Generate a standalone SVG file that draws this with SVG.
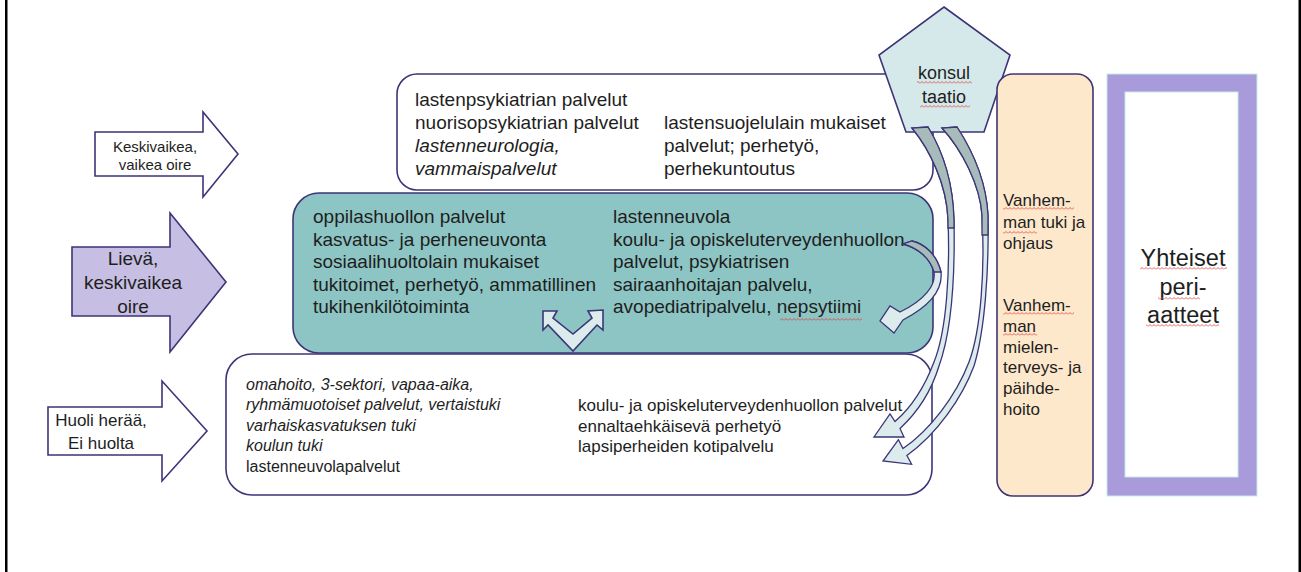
<svg xmlns="http://www.w3.org/2000/svg" width="1301" height="572" viewBox="0 0 1301 572">
<defs>
<style>
.t{font-family:"Liberation Sans",Arial,sans-serif;fill:#1e1e1e}
.s19{font-size:19px}
.s17{font-size:17px}
.s16{font-size:16px}
.s15{font-size:15px}
.it{font-style:italic}
.box{stroke:#3c3577;stroke-width:1.6}
.band{fill:#dcecec;stroke:#3c3577;stroke-width:1.3}
.gray{fill:#a7bbbb;stroke:#3c3577;stroke-width:1.3}
</style>
<pattern id="wv" width="4" height="3" patternUnits="userSpaceOnUse"><path d="M0,2.5 L2,0.5 L4,2.5" fill="none" stroke="#e03a3a" stroke-width="0.8"/></pattern>
</defs>
<rect width="1301" height="572" fill="#ffffff"/>
<rect x="5" y="0" width="2.5" height="572" fill="#000"/>
<rect x="1298.5" y="0" width="2.5" height="572" fill="#000"/>

<g id="arrow-keskivaikea">
<path class="box" d="M95,132 L203,132 L203,112 L238,154 L203,197 L203,176 L95,176 Z" fill="#ffffff"/>
<text class="t s15" text-anchor="middle" x="155" y="152">Keskivaikea,</text>
<text class="t s15" text-anchor="middle" x="155" y="170">vaikea oire</text>
</g>
<g id="arrow-lieva">
<path class="box" d="M72,247 L170,247 L170,213 L226,282 L170,352 L170,316 L72,316 Z" fill="#c6bfe3"/>
<text class="t s19" text-anchor="middle" x="133" y="265">Lievä,</text>
<text class="t s19" text-anchor="middle" x="133" y="289">keskivaikea</text>
<text class="t s19" text-anchor="middle" x="133" y="313">oire</text>
</g>
<g id="arrow-huoli">
<path class="box" d="M48,407 L162,407 L162,381 L207,431 L162,481 L162,455 L48,455 Z" fill="#ffffff"/>
<text class="t s17" text-anchor="middle" x="101" y="426">Huoli herää,</text>
<text class="t s17" text-anchor="middle" x="101" y="449">Ei huolta</text>
</g>

<g id="box-top">
<rect class="box" x="397" y="74" width="536" height="116" rx="20" fill="#ffffff"/>
<text class="t s19" x="415" y="106">lastenpsykiatrian palvelut</text>
<text class="t s19" x="415" y="129">nuorisopsykiatrian palvelut</text>
<text class="t s19 it" x="415" y="152">lastenneurologia,</text>
<text class="t s19 it" x="415" y="175">vammaispalvelut</text>
<text class="t s19" x="664" y="129">lastensuojelulain mukaiset</text>
<text class="t s19" x="664" y="152">palvelut; perhetyö,</text>
<text class="t s19" x="664" y="175">perhekuntoutus</text>
</g>

<g id="box-middle">
<rect class="box" x="293" y="193" width="640" height="160" rx="26" fill="#8dc5c4"/>
<text class="t s19" x="313" y="223">oppilashuollon palvelut</text>
<text class="t s19" x="313" y="245.5">kasvatus- ja perheneuvonta</text>
<text class="t s19" x="313" y="268">sosiaalihuoltolain mukaiset</text>
<text class="t s19" x="313" y="290.5">tukitoimet, perhetyö, ammatillinen</text>
<text class="t s19" x="313" y="313">tukihenkilötoiminta</text>
<text class="t s19" x="613" y="223">lastenneuvola</text>
<text class="t s19" x="613" y="245.5">koulu- ja opiskeluterveydenhuollon</text>
<text class="t s19" x="613" y="268">palvelut, psykiatrisen</text>
<text class="t s19" x="613" y="290.5">sairaanhoitajan palvelu,</text>
<text class="t s19" x="613" y="313">avopediatripalvelu, nepsytiimi</text>
<rect x="780" y="318" width="82" height="3" fill="url(#wv)"/>
<path class="box" d="M543,311 L557,311 L553,318 L573,334 L592,318 L588,311 L603,310 L603,330 L597,325 L573,351 L548,325 L543,330 Z" fill="#dcecec"/>
</g>

<g id="box-bottom">
<rect class="box" x="226" y="354" width="706" height="141" rx="26" fill="#ffffff"/>
<text class="t s16 it" x="246" y="389.5">omahoito, 3-sektori, vapaa-aika,</text>
<text class="t s16 it" x="246" y="410">ryhmämuotoiset palvelut, vertaistuki</text>
<text class="t s16 it" x="246" y="430.5">varhaiskasvatuksen tuki</text>
<text class="t s16 it" x="246" y="451">koulun tuki</text>
<text class="t s16" x="246" y="471.5">lastenneuvolapalvelut</text>
<text class="t s17" x="578" y="411">koulu- ja opiskeluterveydenhuollon palvelut</text>
<text class="t s17" x="578" y="431.5">ennaltaehkäisevä perhetyö</text>
<text class="t s17" x="578" y="452">lapsiperheiden kotipalvelu</text>
</g>

<g id="konsultaatio">
<path class="box" d="M944,7 L1010,55 L984,132 L906,132 L879,55 Z" fill="#d5e9ea"/>
<text class="t" font-size="18" text-anchor="middle" x="944" y="79">konsul</text>
<text class="t" font-size="18" text-anchor="middle" x="944" y="103">taatio</text>
<rect x="917" y="81" width="55" height="3" fill="url(#wv)"/>
<rect x="920" y="105" width="50" height="3" fill="url(#wv)"/>
</g>

<g id="vanhemman">
<rect class="box" x="997" y="74" width="96" height="422" rx="16" fill="#fde8cc"/>
<text class="t s17" x="1003" y="206">Vanhem-</text>
<text class="t s17" x="1003" y="228">man tuki ja</text>
<text class="t s17" x="1003" y="249">ohjaus</text>
<text class="t s17" x="1003" y="311">Vanhem-</text>
<text class="t s17" x="1003" y="332">man</text>
<text class="t s17" x="1003" y="353">mielen-</text>
<text class="t s17" x="1003" y="373">terveys- ja</text>
<text class="t s17" x="1003" y="394">päihde-</text>
<text class="t s17" x="1003" y="415">hoito</text>
<rect x="1003" y="207" width="71" height="3" fill="url(#wv)"/>
<rect x="1003" y="231" width="34" height="3" fill="url(#wv)"/>
<rect x="1003" y="312" width="71" height="3" fill="url(#wv)"/>
<rect x="1003" y="333" width="34" height="3" fill="url(#wv)"/>
</g>

<g id="yhteiset">
<rect x="1107" y="74" width="150" height="422" fill="#a99bdb" stroke="#c6ebe2" stroke-width="1"/>
<rect x="1125" y="92" width="113" height="385" fill="#ffffff" stroke="#c6ebe2" stroke-width="1"/>
<text class="t" font-size="23.5" text-anchor="middle" x="1183" y="266">Yhteiset</text>
<text class="t" font-size="23.5" text-anchor="middle" x="1183" y="295">peri-</text>
<text class="t" font-size="23.5" text-anchor="middle" x="1183" y="323">aatteet</text>
<rect x="1140" y="267" width="87" height="3" fill="url(#wv)"/>
<rect x="1158" y="297" width="42" height="3" fill="url(#wv)"/>
<rect x="1146" y="324" width="73" height="3" fill="url(#wv)"/>
</g>

<g id="connectors">
<path class="band" d="M942,128 C962,150 980,185 982,215 C985,270 981,330 969,362 C956,396 930,430 903,448.5 L898.4,439.7 L883,461 L911.6,464.3 L906.9,455.5 C937,434 962,398 974,366 C985,330 989,270 988,215 C986,178 972,150 957,127 Z"/>
<path class="gray" d="M942,128 C962,150 980,185 982,215 L982,235 L988,235 L988,215 C986,178 972,150 957,127 Z"/>
<path class="band" d="M912,128 C930,150 947,185 948,220 C950,270 947,330 934,362 C925,386 914,405 895,421.6 L890,414 L874,437 L904,437 L900,428.4 C919,411 931,392 939,366 C952,330 955,270 954,220 C953,180 942,150 928,127 Z"/>
<path class="gray" d="M912,128 C930,150 947,185 948,220 L948,228 L954,228 L954,220 C953,180 942,150 928,127 Z"/>
<path class="band" d="M903,244 C918,248 930,258 934,272 C936,285 925,300 900,312 L890,306 L880,321 L894,333 L903,320 C930,306 943,290 941,272 C937,255 925,244 912,241 Z"/>
<path class="gray" d="M903,244 C918,248 930,258 934,272 L941,272 C937,255 925,244 912,241 Z"/>
</g>
</svg>
